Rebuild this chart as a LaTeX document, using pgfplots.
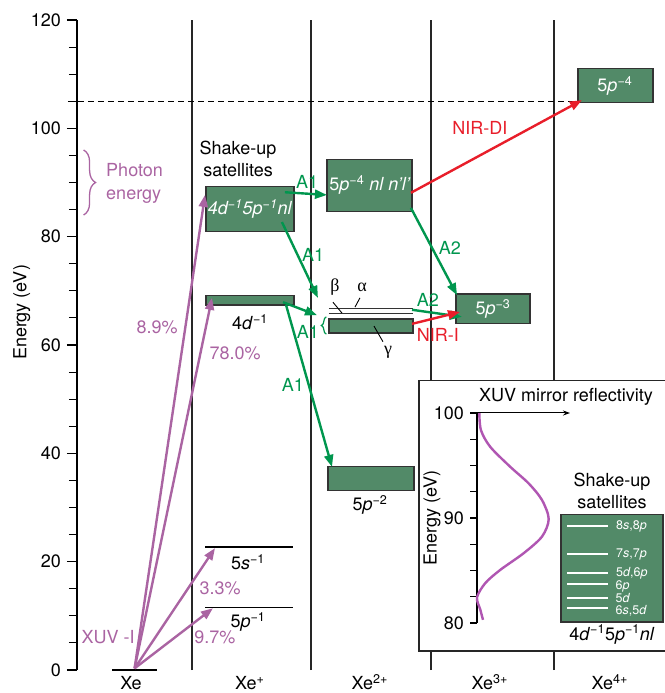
\documentclass[border=0pt]{standalone}
\usepackage{pgfplots}
\pgfplotsset{compat=1.18}
\usepackage{fontspec}
\setmainfont{TeX Gyre Heros}
\newfontfamily\greekfont{Liberation Serif}
\usetikzlibrary{arrows.meta,decorations.pathreplacing}
\definecolor{boxgreen}{RGB}{82,138,104}
\definecolor{agreen}{RGB}{0,150,78}
\definecolor{nred}{RGB}{232,30,42}
\definecolor{xpurple}{RGB}{170,100,162}
\definecolor{cpurple}{RGB}{176,86,178}
\newcommand{\mi}{{\char"2212\relax}}
\newcommand{\su}[1]{\textsuperscript{#1}}
\newcommand{\fs}{\fontsize{18}{21}\selectfont}
\newcommand{\fss}{\fontsize{12.5}{14}\selectfont}
\tikzset{
  lvl/.style={fill=boxgreen, draw=black!80, line width=1.2pt},
  arr/.style={line width=2.4pt, -{Triangle[length=12pt,width=9pt]}},
}
\begin{document}
\fs
\begin{tikzpicture}[font=\fs]
\begin{axis}[
  at={(0pt,0pt)}, anchor=south west,
  scale only axis, width=587pt, height=650pt,
  xmin=-0.45, xmax=4.442, ymin=0, ymax=120,
  axis y line=left, axis x line=none,
  y axis line style={-, line width=1.2pt},
  ytick={0,20,...,120}, minor y tick num=3,
  tick align=outside, major tick length=10pt, minor tick length=8pt,
  every tick/.style={black, line width=1.1pt},
  tick label style={font=\fs},
  /pgf/number format/assume math mode=true,
  ylabel={Energy (eV)},
  ylabel style={font=\fs, at={(axis description cs:-0.094,0.55)}, anchor=center},
  clip=false,
]
% column separators
\addplot[black!85, line width=1.2pt] coordinates {(0.508,0) (0.508,120)};
\addplot[black!85, line width=1.2pt] coordinates {(1.5,0) (1.5,120)};
\addplot[black!85, line width=1.2pt] coordinates {(2.5,0) (2.5,120)};
\addplot[black!85, line width=1.2pt] coordinates {(3.525,0) (3.525,120)};
% dashed photon line
\addplot[black, line width=1pt, dash pattern=on 6pt off 4pt] coordinates {(-0.525,105) (3.83,105)};
% inset frame
\addplot[fill=white, draw=none] coordinates {(2.4,3.5) (4.7,3.5) (4.7,53.4) (2.4,53.4)} -- cycle;
\addplot[black!85, line width=1.2pt] coordinates {(4.7,53.4) (2.4,53.4) (2.4,3.5) (4.7,3.5)};
% levels
\addplot[black, line width=1.3pt] coordinates {(-0.158,0) (0.217,0)};
\addplot[black, line width=1.3pt] coordinates {(0.617,22.7) (1.35,22.7)};
\addplot[black, line width=1.3pt] coordinates {(0.617,11.6) (1.35,11.6)};
\addplot[lvl] coordinates {(0.625,81.0) (1.358,81.0) (1.358,89.2) (0.625,89.2)} -- cycle;
\addplot[lvl] coordinates {(0.625,67.4) (1.358,67.4) (1.358,69.2) (0.625,69.2)} -- cycle;
\addplot[lvl] coordinates {(1.633,84.7) (2.342,84.7) (2.342,94.3) (1.633,94.3)} -- cycle;
\addplot[lvl] coordinates {(1.65,62.2) (2.35,62.2) (2.35,64.8) (1.65,64.8)} -- cycle;
\addplot[black!80, line width=1.1pt] coordinates {(1.65,66.8) (2.35,66.8)};
\addplot[black!80, line width=1.1pt] coordinates {(1.65,65.8) (2.35,65.8)};
\addplot[lvl] coordinates {(1.642,33.2) (2.358,33.2) (2.358,37.5) (1.642,37.5)} -- cycle;
\addplot[lvl] coordinates {(2.708,63.9) (3.325,63.9) (3.325,69.4) (2.708,69.4)} -- cycle;
\addplot[lvl] coordinates {(3.725,104.7) (4.35,104.7) (4.35,111.1) (3.725,111.1)} -- cycle;
% pointers for alpha beta gamma
\addplot[black, line width=0.9pt] coordinates {(1.683,67.9) (1.758,65.9)};
\addplot[black, line width=0.9pt] coordinates {(1.908,68.7) (1.867,67.0)};
\addplot[black, line width=0.9pt] coordinates {(2.025,63.5) (2.1,60.6)};
% XUV arrows
\addplot[xpurple, arr] coordinates {(0.03,0.3) (0.683,11.4)};
\addplot[xpurple, arr] coordinates {(0.03,0.3) (0.7,22.5)};
\addplot[xpurple, arr] coordinates {(0.03,0.3) (0.675,68.7)};
\addplot[xpurple, arr] coordinates {(0.03,0.3) (0.617,87.7)};
% Auger arrows
\addplot[agreen, arr] coordinates {(1.283,88.2) (1.633,87.7)};
\addplot[agreen, arr] coordinates {(1.258,82.7) (1.558,68.7)};
\addplot[agreen, arr] coordinates {(1.267,67.9) (1.55,65.5)};
\addplot[agreen, arr] coordinates {(1.292,67.4) (1.675,37.5)};
\addplot[agreen, arr] coordinates {(2.333,85.3) (2.717,69.2)};
\addplot[agreen, arr] coordinates {(2.342,66.5) (2.758,65.2)};
% NIR arrows
\addplot[nred, arr] coordinates {(2.333,88.1) (3.758,105.2)};
\addplot[nred, arr] coordinates {(2.342,63.9) (2.742,66.1)};
% braces
\draw[xpurple, line width=1.3pt, decorate, decoration={brace, amplitude=12pt}] (axis cs:-0.395,96) -- (axis cs:-0.395,84);
\draw[agreen, line width=1.2pt, decorate, decoration={brace, amplitude=5pt}] (axis cs:1.628,62.0) -- (axis cs:1.628,65.2);
% texts
\node[xpurple, align=left, anchor=west, font=\fontsize{18}{23}\selectfont] at (axis cs:-0.258,89.9) {Photon\\energy};
\node[align=center, font=\fontsize{18}{22}\selectfont] at (axis cs:0.892,94.3) {Shake-up\\satellites};
\node[text=white] at (axis cs:0.992,85.1) {\textit{4d\su{\mi1}5p\su{\mi1}nl}};
\node at (axis cs:0.992,64.2) {4\textit{d}\su{\mi1}};
\node at (axis cs:0.975,19.9) {5\textit{s}\su{\mi1}};
\node at (axis cs:0.975,8.9) {5\textit{p}\su{\mi1}};
\node[text=white] at (axis cs:1.992,89.5) {5\textit{p}\su{\mi4} \textit{nl n'l'}};
\node at (axis cs:1.992,30.5) {5\textit{p}\su{\mi2}};
\node[text=white] at (axis cs:3.017,66.6) {5\textit{p}\su{\mi3}};
\node[text=white] at (axis cs:4.033,107.8) {5\textit{p}\su{\mi4}};
\node at (axis cs:1.7,70.7) {\greekfont β};
\node at (axis cs:1.925,70.7) {\greekfont α};
\node at (axis cs:2.142,58.7) {\greekfont γ};
\node[xpurple] at (axis cs:0.217,63.3) {8.9\%};
\node[xpurple] at (axis cs:0.867,58.5) {78.0\%};
\node[xpurple] at (axis cs:0.742,15.1) {3.3\%};
\node[xpurple] at (axis cs:0.7,6.1) {9.7\%};
\node[xpurple] at (axis cs:-0.19,6.1) {XUV -I};
\node[agreen] at (axis cs:1.467,90.1) {A1};
\node[agreen] at (axis cs:1.517,76.6) {A1};
\node[agreen] at (axis cs:1.475,62.4) {A1};
\node[agreen] at (axis cs:1.35,52.6) {A1};
\node[agreen] at (axis cs:2.658,77.9) {A2};
\node[agreen] at (axis cs:2.475,68.3) {A2};
\node[nred] at (axis cs:2.908,100.1) {NIR-DI};
\node[nred] at (axis cs:2.558,61.8) {NIR-I};
% column labels
\node[anchor=base, inner sep=0pt] at (axis cs:0,-3.65) {Xe};
\node[anchor=base, inner sep=0pt] at (axis cs:0.99,-3.65) {Xe\su{+}};
\node[anchor=base, inner sep=0pt] at (axis cs:1.99,-3.65) {Xe\su{2+}};
\node[anchor=base, inner sep=0pt] at (axis cs:2.99,-3.65) {Xe\su{3+}};
\node[anchor=base, inner sep=0pt] at (axis cs:3.99,-3.65) {Xe\su{4+}};
\end{axis}
% inset
\begin{axis}[
  at={(400pt,47pt)}, anchor=south west,
  scale only axis, width=100pt, height=210pt,
  xmin=0, xmax=100, ymin=80, ymax=100,
  axis y line=left, axis x line=none,
  y axis line style={-, line width=1.2pt},
  ytick={80,90,100}, minor ytick={82.5,85,87.5,92.5,95,97.5},
  tick align=outside, major tick length=7pt, minor tick length=7pt,
  every tick/.style={black, line width=1.1pt},
  tick label style={font=\fs},
  /pgf/number format/assume math mode=true,
  ylabel={Energy (eV)},
  ylabel style={font=\fs, at={(axis description cs:-0.45,0.5)}, anchor=center},
  clip=false,
]
\addplot[cpurple, line width=2.4pt, smooth] coordinates {
 (2.3,100) (4,98.35) (13.3,96.77) (33.3,94.87) (51.7,93.29) (65,91.71)
 (71.7,89.9) (65,88.23) (46.7,86.65) (23.3,85.06) (8.3,83.8) (0,82.44)
 (3.3,81.27) (6,80.3)};
\addplot[black, line width=1pt, -{Stealth[length=7pt,width=5pt]}] coordinates {(0,100) (93,100)};
\node at (axis cs:89,101.5) {XUV mirror reflectivity};
\addplot[lvl] coordinates {(84,80.1) (186,80.1) (186,90.3) (84,90.3)} -- cycle;
\addplot[white, line width=1.2pt] coordinates {(90,89.24) (131,89.24)};
\addplot[white, line width=1.2pt] coordinates {(90,86.57) (131,86.57)};
\addplot[white, line width=1.2pt] coordinates {(90,84.76) (131,84.76)};
\addplot[white, line width=1.2pt] coordinates {(90,83.71) (131,83.71)};
\addplot[white, line width=1.2pt] coordinates {(90,82.38) (131,82.38)};
\addplot[white, line width=1.2pt] coordinates {(90,81.43) (131,81.43)};
\node[text=white, anchor=west, font=\fss, inner sep=1pt] at (axis cs:138,89.24) {8\textit{s},8\textit{p}};
\node[text=white, anchor=west, font=\fss, inner sep=1pt] at (axis cs:138,86.57) {7\textit{s},7\textit{p}};
\node[text=white, anchor=west, font=\fss, inner sep=1pt] at (axis cs:138,84.76) {5\textit{d},6\textit{p}};
\node[text=white, anchor=west, font=\fss, inner sep=0.5pt] at (axis cs:138,83.5) {6\textit{p}};
\node[text=white, anchor=west, font=\fss, inner sep=0.5pt] at (axis cs:138,82.38) {5\textit{d}};
\node[text=white, anchor=west, font=\fss, inner sep=0.5pt] at (axis cs:138,81.2) {6\textit{s},5\textit{d}};
\node[align=center, font=\fontsize{18}{22}\selectfont] at (axis cs:135,92.6) {Shake-up\\satellites};
\node at (axis cs:135,78.9) {4\textit{d}\su{\mi1}5\textit{p}\su{\mi1}\textit{nl}};
\end{axis}
\pgfresetboundingbox
\useasboundingbox (-77pt,-23pt) rectangle (587pt,670pt);
\end{tikzpicture}
\end{document}
